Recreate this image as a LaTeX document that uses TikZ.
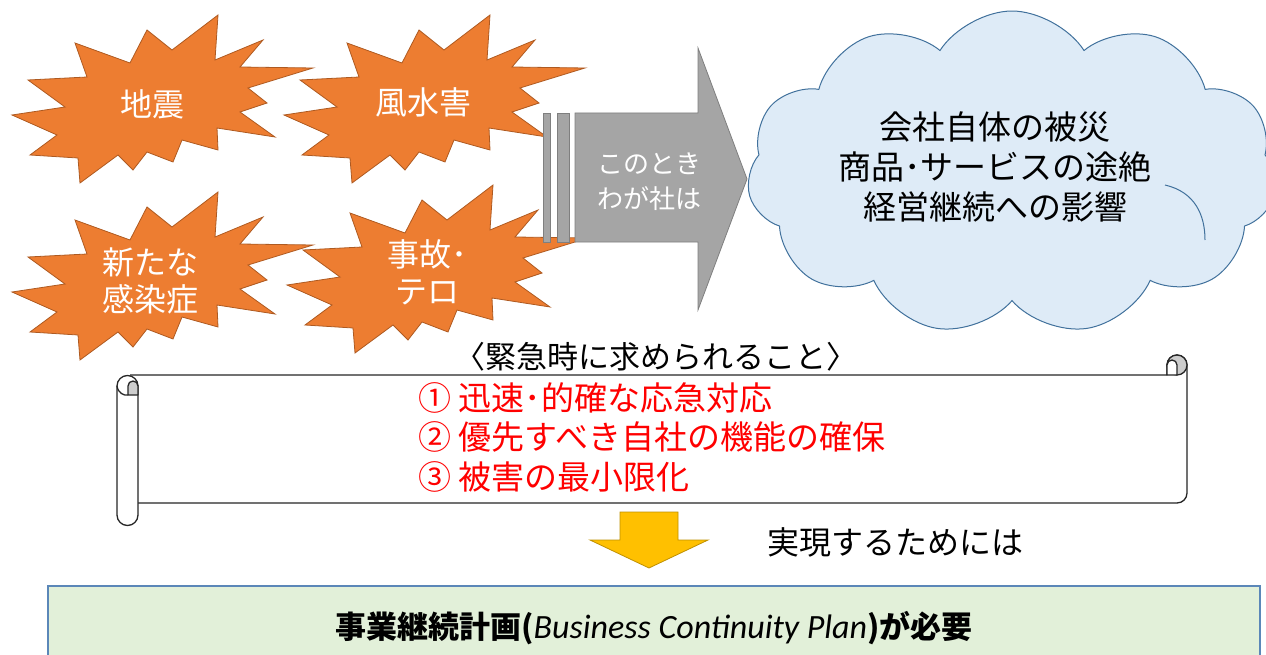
\documentclass[tikz,border=0pt]{standalone}
\usepackage{fontspec}
\setmainfont{Noto Sans CJK JP}
\newfontfamily\latinit{Carlito}
\usetikzlibrary{shapes.symbols}
\definecolor{boomfill}{HTML}{ED7D31}
\definecolor{boomline}{HTML}{AE5A21}
\definecolor{arrowgray}{HTML}{A5A5A5}
\definecolor{arrowline}{HTML}{7F7F7F}
\definecolor{cloudfill}{HTML}{DEEBF7}
\definecolor{cloudline}{HTML}{41719C}
\definecolor{gold}{HTML}{FFC000}
\definecolor{goldline}{HTML}{BF9000}
\definecolor{boxfill}{HTML}{E2F0D9}
\definecolor{boxline}{HTML}{5B87B8}
\definecolor{redtext}{HTML}{FF0000}
\definecolor{rollgray}{HTML}{CDCDCD}
\tikzset{
  boomshape/.style={fill=boomfill,draw=boomline,line width=0.8pt,line join=miter},
  boomtext/.style={text=white,align=center,font=\fontsize{32}{37}\selectfont},
  scrollline/.style={draw=black!85,line width=1.3pt,line join=round},
  redline/.style={anchor=west,text=redtext,font=\fontsize{33}{35}\selectfont,inner sep=0pt},
}
\begin{document}
\begin{tikzpicture}[x=1pt,y=-1pt]
\useasboundingbox (0,0) rectangle (1266,655);
% explosions
\foreach \dx/\dy in {0/0,272/0,0/177,275/170}{
\begin{scope}[shift={(\dx,\dy)}]
\path[boomshape] (28,80) -- (87,77) -- (75,43) -- (130,63) -- (147,30) -- (172,50) -- (218,15) -- (215,60) -- (263,40) -- (240,67) -- (313,68) -- (248,88) -- (267,103) -- (240,112) -- (275,137) -- (217,128) -- (218,150) -- (182,140) -- (173,162) -- (147,152) -- (133,170) -- (118,155) -- (80,183) -- (78,158) -- (30,155) -- (57,135) -- (12,115) -- (65,107) -- cycle;
\end{scope}}
\node[boomtext] (quake) at (152,104) {地震};
\node[boomtext] (storm) at (423,102) {風水害};
\node[boomtext] (virus) at (150,281) {新たな\\感染症};
\node[boomtext] (accident) at (427,272) {事故･\\テロ};
% gray arrow
\path[fill=arrowgray,draw=arrowline,line width=0.8pt] (543,113) rectangle (550,242);
\path[fill=arrowgray,draw=arrowline,line width=0.8pt] (557,113) rectangle (569,242);
\path[fill=arrowgray,draw=arrowline,line width=0.8pt] (575,113) -- (698,113) -- (698,48) -- (747,179) -- (698,310) -- (698,242) -- (575,242) -- cycle;
\node[text=white,align=center,font=\fontsize{26}{35}\selectfont] (thisco) at (649,182) {このとき\\わが社は};
% cloud
\node[cloud,cloud puffs=11,cloud puff arc=115,aspect=1.65,minimum width=530pt,minimum height=324pt,fill=cloudfill,draw=cloudline,line width=1pt] (cloud) at (1012,173) {};
\path[draw=cloudline,line width=1pt] (1165,185) .. controls (1195,192) and (1205,215) .. (1205,240);
\node[align=center,font=\fontsize{33}{40}\selectfont] (impact) at (995,167) {会社自体の被災\\商品･サービスの途絶\\経営継続への影響};
% scroll body
\path[scrollline,fill=white] (130,375) -- (1167,375) -- (1167,365) arc[start angle=180,end angle=360,radius=10] -- (1187,493) arc[start angle=0,end angle=90,radius=10] -- (138,503);
\path[scrollline,fill=rollgray] (1177,365) circle[radius=10];
\path[scrollline,fill=white] (1167,365) -- (1167,375) -- (1177,375) -- (1177,365) arc[start angle=0,end angle=-180,radius=5] -- cycle;
\path[scrollline,fill=white] (117,386) -- (117,515) arc[start angle=180,end angle=0,radius=10.5] -- (138,386) arc[start angle=0,end angle=-180,radius=10.5] -- cycle;
\path[scrollline,fill=rollgray] (138,386) arc[start angle=0,end angle=-180,radius=5] -- (128,395) -- (138,395) -- cycle;
\path[scrollline] (117,386) .. controls (118,393) and (124,396) .. (128,395);
\node[font=\fontsize{31}{35}\selectfont] (needs) at (656,357) {〈緊急時に求められること〉};
\node[redline] (item1) at (418,398) {① 迅速･的確な応急対応};
\node[redline] (item2) at (418,437) {② 優先すべき自社の機能の確保};
\node[redline] (item3) at (418,477) {③ 被害の最小限化};
% yellow arrow
\path[fill=gold,draw=goldline,line width=0.8pt] (620,512) -- (678,512) -- (678,540) -- (708,540) -- (649,568) -- (590,540) -- (620,540) -- cycle;
\node[anchor=west,inner sep=0pt,font=\fontsize{32}{36}\selectfont] (realize) at (767,542) {実現するためには};
% bottom box
\path[fill=boxfill,draw=boxline,line width=1.3pt] (48,586) rectangle (1260,680);
\node[font=\fontsize{31}{34}\selectfont\bfseries] (bcp) at (654,628) {事業継続計画({\latinit\itshape\mdseries\fontsize{34}{34}\selectfont Business Continuity Plan})が必要};
\end{tikzpicture}
\end{document}
